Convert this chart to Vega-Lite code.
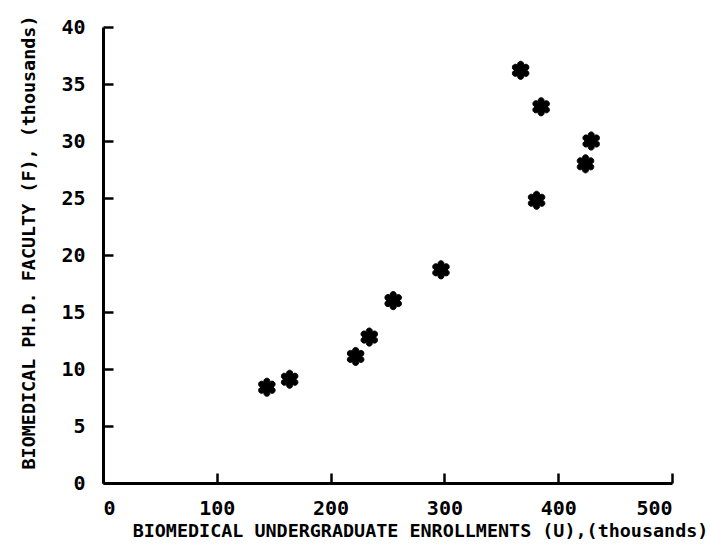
{
  "$schema": "https://vega.github.io/schema/vega-lite/v6.json",
  "width": 569,
  "height": 456,
  "autosize": {"type": "none"},
  "padding": {"left": 103, "top": 27, "right": 38, "bottom": 69},
  "background": "white",
  "config": {
    "view": {"stroke": null},
    "axis": {
      "grid": false,
      "domainColor": "black",
      "domainWidth": 3,
      "tickColor": "black",
      "tickWidth": 2.5,
      "labelFont": "DejaVu Sans Mono",
      "labelFontWeight": "bold",
      "labelFontSize": 20,
      "labelColor": "black",
      "titleFont": "DejaVu Sans Mono",
      "titleFontWeight": "bold",
      "titleFontSize": 18.4,
      "titleColor": "black"
    }
  },
  "data": {
    "values": [
      {"U": 144, "F": 8.4},
      {"U": 164, "F": 9.1},
      {"U": 222, "F": 11.1},
      {"U": 234, "F": 12.8},
      {"U": 255, "F": 16.0},
      {"U": 297, "F": 18.7},
      {"U": 367, "F": 36.2},
      {"U": 385, "F": 33.0},
      {"U": 381, "F": 24.8},
      {"U": 424, "F": 28.0},
      {"U": 429, "F": 30.0}
    ]
  },
  "mark": {
    "type": "point",
    "shape": "M0.55,0 A0.334,0.334 0 1 1 0.275,0.476 A0.334,0.334 0 1 1 -0.275,0.476 A0.334,0.334 0 1 1 -0.55,0 A0.334,0.334 0 1 1 -0.275,-0.476 A0.334,0.334 0 1 1 0.275,-0.476 A0.334,0.334 0 1 1 0.55,0 Z",
    "filled": true,
    "color": "black",
    "stroke": "black",
    "strokeWidth": 1,
    "size": 330,
    "opacity": 1
  },
  "encoding": {
    "x": {
      "field": "U",
      "type": "quantitative",
      "scale": {"domain": [0, 500], "nice": false, "zero": true},
      "axis": {
        "title": "BIOMEDICAL UNDERGRADUATE ENROLLMENTS (U),(thousands)",
        "values": [0, 100, 200, 300, 400, 500],
        "tickSize": -10,
        "labelPadding": 25,
        "titlePadding": 3,
        "titleX": 317
      }
    },
    "y": {
      "field": "F",
      "type": "quantitative",
      "scale": {"domain": [0, 40], "nice": false},
      "axis": {
        "title": "BIOMEDICAL PH.D. FACULTY (F), (thousands)",
        "values": [0, 5, 10, 15, 20, 25, 30, 35, 40],
        "tickSize": -10,
        "labelPadding": 28,
        "titlePadding": 22,
        "titleY": 215
      }
    }
  }
}
